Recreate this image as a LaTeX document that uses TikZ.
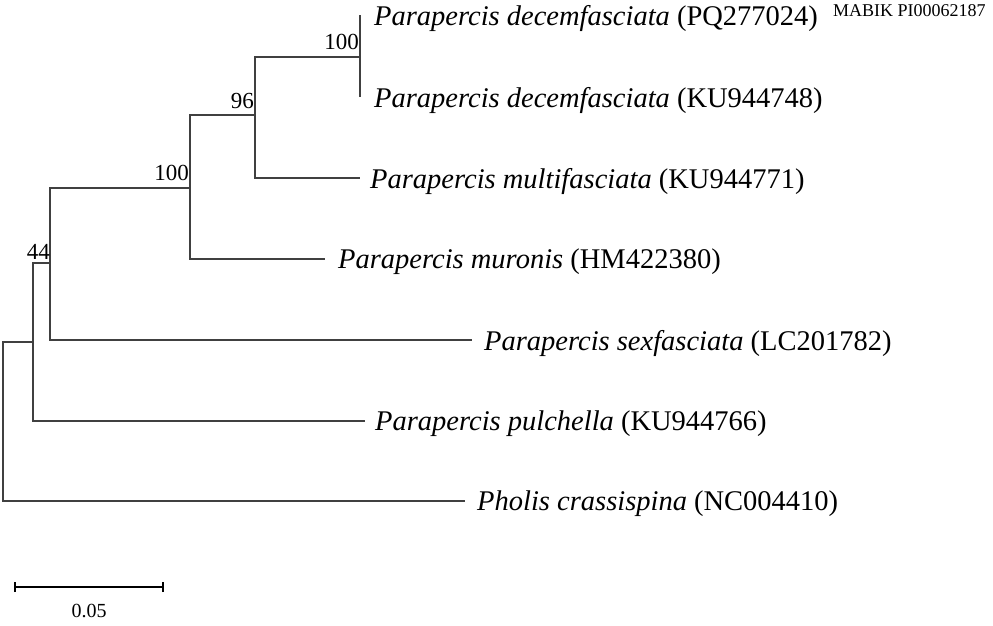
\documentclass[tikz,border=0pt]{standalone}
\usepackage{fontspec}
\setmainfont{Liberation Serif}
\usetikzlibrary{positioning}
\tikzstyle{branch}=[line width=1.1pt, black!75]
\tikzstyle{taxon}=[anchor=west, inner sep=0pt, yshift=-3pt, font=\fontsize{28.5}{30}\selectfont]
\tikzstyle{boot}=[anchor=south east, inner sep=1pt, font=\fontsize{23}{25}\selectfont]
\begin{document}
\begin{tikzpicture}[x=1pt, y=-1pt]
\useasboundingbox (0,0) rectangle (993,625);

% internal nodes
\coordinate (root) at (3,342);
\coordinate (nA) at (33,342);
\coordinate (n44) at (50,263);
\coordinate (n100a) at (190,188);
\coordinate (n96) at (255,115);
\coordinate (n100b) at (360,57);

% tips
\coordinate (dec1) at (360,15);
\coordinate (dec2) at (360,97);
\coordinate (mul) at (360,178);
\coordinate (mur) at (325,259);
\coordinate (sex) at (472,340);
\coordinate (pul) at (365,421);
\coordinate (pho) at (465,501);

\begin{scope}[branch]
    \draw (dec1) -- (dec2);
    \draw (n100b) -| (n96) |- (mul);
    \draw (n96) -| (n100a) |- (mur);
    \draw (n100a) -| (n44) |- (sex);
    \draw (n44) -| (nA) |- (pul);
    \draw (nA) -| (root) |- (pho);
\end{scope}

\node[taxon] (t1) at ([xshift=14pt]dec1) {\textit{Parapercis decemfasciata} (PQ277024)};
\node[anchor=north west, inner sep=0pt, font=\fontsize{18}{20}\selectfont] (t1s) at (833,4) {MABIK PI00062187};
\node[taxon] (t2) at ([xshift=14pt]dec2) {\textit{Parapercis decemfasciata} (KU944748)};
\node[taxon] (t3) at ([xshift=10pt]mul) {\textit{Parapercis multifasciata} (KU944771)};
\node[taxon] (t4) at ([xshift=13pt]mur) {\textit{Parapercis muronis} (HM422380)};
\node[taxon] (t5) at ([xshift=12pt]sex) {\textit{Parapercis sexfasciata} (LC201782)};
\node[taxon] (t6) at ([xshift=10pt]pul) {\textit{Parapercis pulchella} (KU944766)};
\node[taxon] (t7) at ([xshift=12pt]pho) {\textit{Pholis crassispina} (NC004410)};

\node[boot] (b1) at ([yshift=6pt]n100b) {100};
\node[boot] (b2) at ([yshift=5pt]n96) {96};
\node[boot] (b3) at ([yshift=6pt]n100a) {100};
\node[boot] (b4) at ([xshift=1pt,yshift=2pt]n44) {44};

% scale bar
\coordinate (sbl) at (15,587);
\coordinate (sbr) at (163,587);
\draw[line width=2.5pt] (sbl) -- (sbr);
\draw[line width=1.2pt] ([yshift=-5pt]sbl) -- ([yshift=5pt]sbl);
\draw[line width=1.2pt] ([yshift=-5pt]sbr) -- ([yshift=5pt]sbr);
\node[font=\fontsize{20}{22}\selectfont] (sbt) at (89,611) {0.05};
\end{tikzpicture}
\end{document}
